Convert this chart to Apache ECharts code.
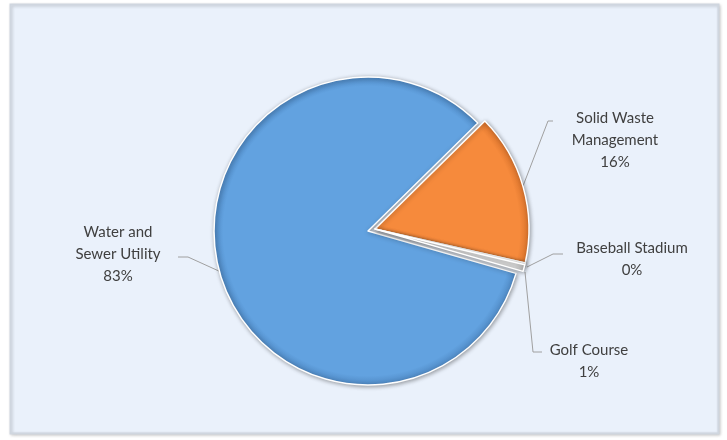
<!DOCTYPE html>
<html>
<head>
<meta charset="utf-8">
<script src="https://cdn.jsdelivr.net/npm/echarts@6/dist/echarts.min.js"></script>
<style>
html,body{margin:0;padding:0;background:#ffffff;}
#c{width:727px;height:440px;}
</style>
</head>
<body>
<div id="c"></div>
<script>
// Data
var categories = ['Water and Sewer Utility', 'Solid Waste Management', 'Baseball Stadium', 'Golf Course'];
var labelTexts = ['Water and\nSewer Utility', 'Solid Waste\nManagement', 'Baseball Stadium', 'Golf Course'];
var values = [83.2, 15.9, 0.2, 0.7];
var colors = ['#62a2e0', '#f68a3c', '#ebebeb', '#d9d9d9'];
var rimColors = ['#4f89c4', '#d9732c', '#cfcfcf', '#bdbdbd'];
var exploded = [false, true, true, true];

// label placement (layout only)
var labelPos = [
  {x: 118, y: 254, line: [[221, 272], [188, 257], [178, 257]]},
  {x: 615, y: 140, line: [[523, 186], [548, 121], [553, 121]]},
  {x: 632, y: 259, line: [[527, 267], [553, 254], [563, 254]]},
  {x: 589, y: 361, line: [[525, 272], [533, 352], [542, 352]]}
];

var R = 154;
var chart = echarts.init(document.getElementById('c'), null, {renderer: 'canvas'});

function fillFor(i, center) {
  return {
    type: 'radial', x: center[0], y: center[1], r: R, global: true,
    colorStops: [
      {offset: 0, color: colors[i]},
      {offset: 0.94, color: colors[i]},
      {offset: 1, color: rimColors[i]}
    ]
  };
}

function makeData(center, showExploded) {
  return categories.map(function (n, i) {
    var visible = exploded[i] === showExploded;
    return {
      name: n,
      value: values[i],
      itemStyle: visible ? {color: fillFor(i, center)} : {color: 'rgba(0,0,0,0)', borderWidth: 0, shadowBlur: 0, shadowColor: 'rgba(0,0,0,0)'},
      label: {show: visible},
      labelLine: {show: visible}
    };
  });
}

function pieSeries(center, showExploded) {
  return {
    type: 'pie',
    center: center,
    radius: R,
    startAngle: 44.5 + values[0] * 3.6,
    clockwise: true,
    percentPrecision: 0,
    avoidLabelOverlap: false,
    silent: true,
    itemStyle: {
      borderColor: '#ffffff',
      borderWidth: 1.5,
      shadowBlur: 4,
      shadowColor: 'rgba(0,0,0,0.35)',
      shadowOffsetX: 1,
      shadowOffsetY: 1
    },
    emphasis: {disabled: true},
    label: {
      show: true,
      formatter: function (p) { return labelTexts[p.dataIndex] + '\n' + p.percent + '%'; },
      fontFamily: 'Lato, "Open Sans", sans-serif',
      fontSize: 15,
      lineHeight: 22,
      color: '#404040',
      align: 'center'
    },
    labelLine: {show: true, lineStyle: {color: '#a0a0a0', width: 1}},
    labelLayout: function (params) {
      var p = labelPos[params.dataIndex];
      return {x: p.x, y: p.y, align: 'center', verticalAlign: 'middle', labelLinePoints: p.line};
    },
    data: makeData(center, showExploded)
  };
}

chart.setOption({
  animation: false,
  backgroundColor: '#ffffff',
  graphic: [{
    type: 'rect',
    z: -10,
    shape: {x: 10.5, y: 4.5, width: 708, height: 429},
    style: {fill: '#eaf1fb', stroke: '#cfd6df', lineWidth: 2,
      shadowBlur: 3, shadowColor: 'rgba(0,0,0,0.18)', shadowOffsetX: 1, shadowOffsetY: 1}
  }],
  series: [
    pieSeries([368, 231], false),
    pieSeries([375, 229], true)
  ]
});
</script>
</body>
</html>
